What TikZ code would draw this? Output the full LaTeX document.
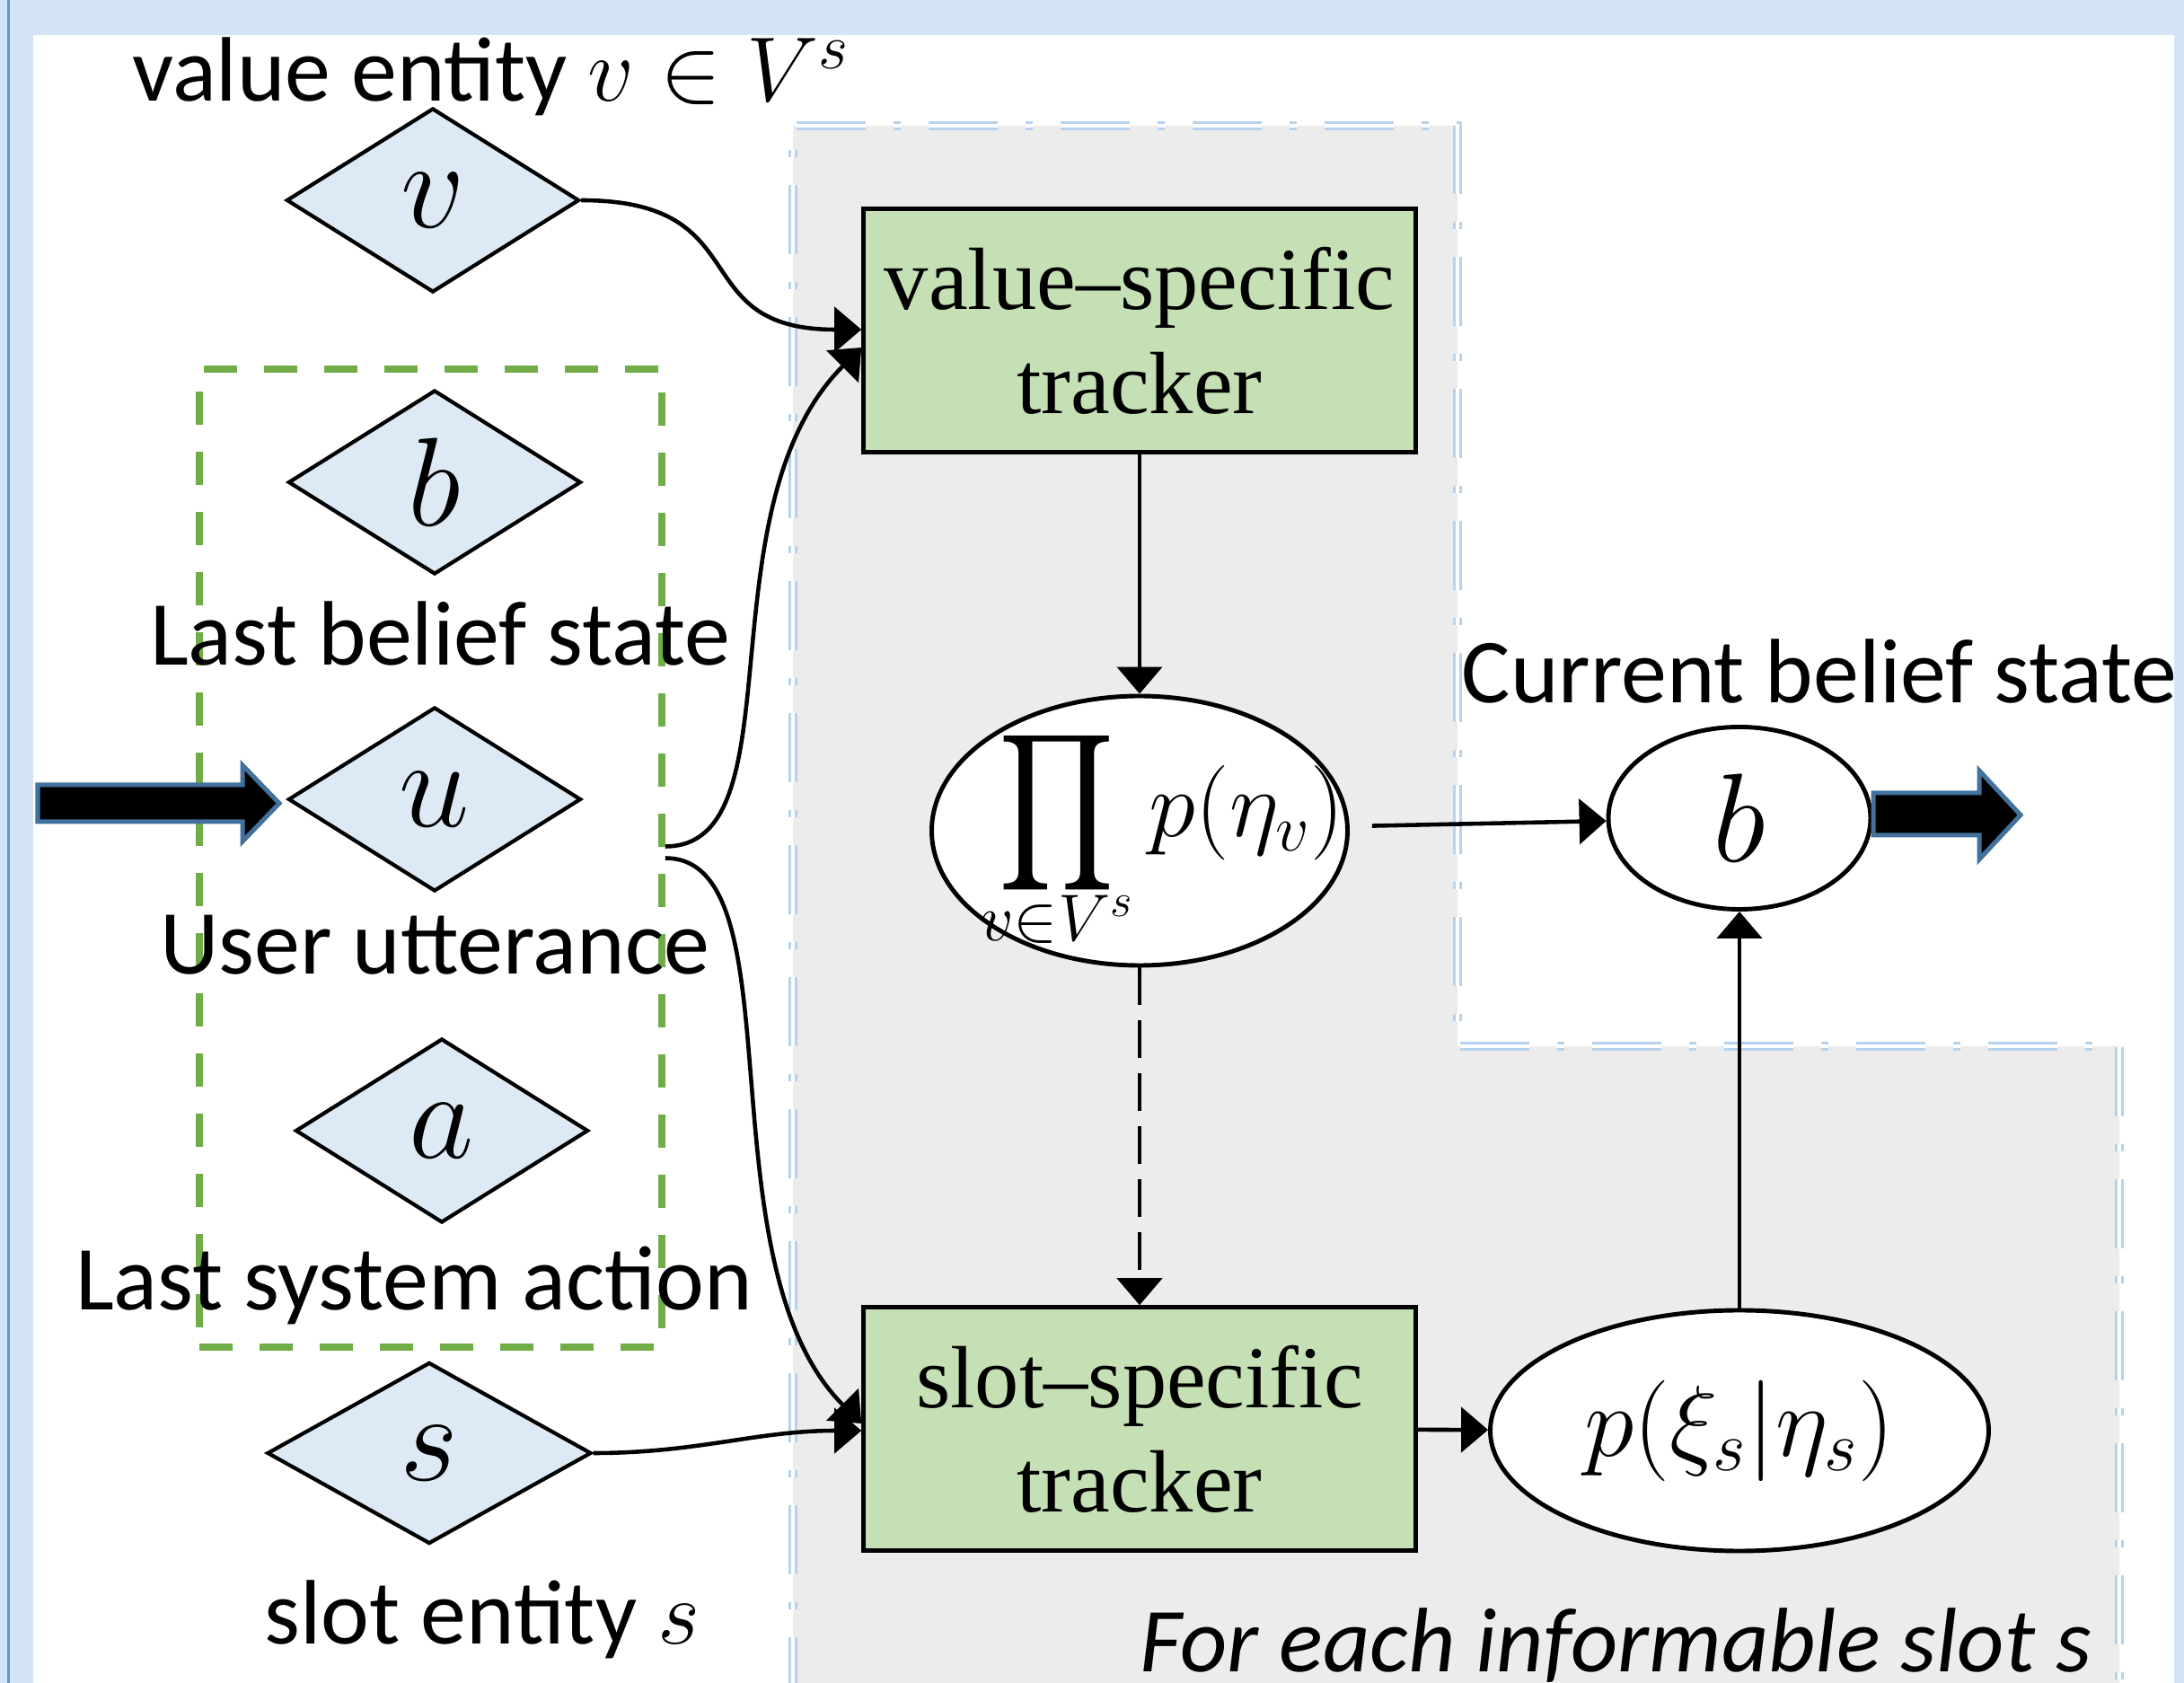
\RequirePackage{fix-cm}
\documentclass[tikz,border=0pt]{standalone}
\usepackage{amsmath}
\usepackage{graphicx}
\usepackage[no-math]{fontspec}
\setmainfont{Carlito}
\newfontfamily\boxfont{Liberation Serif}
\usepackage{tikz}
\usetikzlibrary{shapes,arrows.meta,positioning}
\definecolor{framelight}{RGB}{211,228,249}
\definecolor{framedark}{RGB}{91,155,213}
\definecolor{diafill}{RGB}{221,234,246}
\definecolor{boxgreen}{RGB}{197,224,180}
\definecolor{groupgreen}{RGB}{112,173,71}
\definecolor{regiongray}{RGB}{236,236,236}
\definecolor{regionblue}{RGB}{182,210,238}
\definecolor{arrowblue}{RGB}{65,113,156}
\newcommand{\tallprod}{\mathop{\vcenter{\hbox{\scalebox{1.15}[1.4]{$\displaystyle\prod$}}}}\limits}
\tikzstyle{dnode} = [diamond, draw, fill=diafill, line width=1.2pt, inner sep=0pt, minimum width=3.26cm, minimum height=2.05cm, font=\fontsize{40}{48}\selectfont]
\tikzstyle{tbox} = [rectangle, draw, fill=boxgreen, line width=1.3pt, minimum width=6.15cm, minimum height=2.71cm, align=center, font=\boxfont\fontsize{28}{33}\selectfont]
\tikzstyle{enode} = [ellipse, draw, fill=white, line width=1.4pt, inner sep=0pt]
\tikzstyle{gbox} = [rectangle, draw=groupgreen, line width=2.2pt, dash pattern=on 0.37cm off 0.30cm]
\tikzstyle{tlabel} = [anchor=base, inner sep=0pt, font=\fontsize{29}{34}\selectfont]
\tikzstyle{line} = [draw, line width=1.3pt, -{Triangle[length=0.3cm,width=0.5cm]}]
\tikzstyle{bigarrow} = [fill=black, draw=arrowblue, line width=0.05cm]

\begin{document}
\begin{tikzpicture}
	\useasboundingbox (0,0) rectangle (24.32,-18.74);
	% frame
	\fill [framelight] (0,0) rectangle (24.32,-18.74);
	\fill [white] (0.37,-0.39) rectangle (24.21,-19);
	\draw [framedark, line width=0.04cm] (0.095,0) -- (0.095,-18.74);
	% informable slot region
	\path [fill=regiongray] (8.83,-1.40) -- (16.23,-1.40) -- (16.23,-11.65) -- (23.60,-11.65) -- (23.60,-19) -- (8.83,-19) -- cycle;
	\draw [regionblue, line width=0.9pt, double=white, double distance=1.2pt, dash pattern=on 0.77cm off 0.31cm on 0.08cm off 0.31cm] (8.83,-19) -- (8.83,-1.40) -- (16.23,-1.40) -- (16.23,-11.65) -- (23.60,-11.65) -- (23.60,-19);

	\node [gbox, minimum width=5.15cm, minimum height=10.89cm] (ctx) at (4.795,-9.555) {};

	\node [dnode] (v) at (4.82,-2.23) {$v$};
	\node [dnode] (b) at (4.84,-5.37) {$b$};
	\node [dnode] (u) at (4.84,-8.90) {$u$};
	\node [dnode] (a) at (4.92,-12.59) {$a$};
	\node [dnode, minimum width=3.61cm, minimum height=2.02cm] (s) at (4.78,-16.18) {$s$};

	\node [tlabel] (vlabel) at (5.47,-1.13) {value entity $v\in V^s$};
	\node [tlabel] (blabel) at (4.90,-7.41) {Last belief state};
	\node [tlabel] (ulabel) at (4.84,-10.85) {User utterance};
	\node [tlabel] (alabel) at (4.61,-14.58) {Last system action};
	\node [tlabel] (slabel) at (5.37,-18.30) {slot entity $s$};
	\node [tlabel] (curlabel) at (20.26,-7.83) {Current belief state};
	\node [tlabel, anchor=base east, font=\itshape\fontsize{29}{34}\selectfont] (each) at (23.30,-18.62) {For each informable slot s};

	\node [tbox] (vt) at (12.69,-3.68) {value–specific\\tracker};
	\node [tbox] (st) at (12.69,-15.91) {slot–specific\\tracker};

	\node [enode, minimum width=4.63cm, minimum height=3.0cm, inner xsep=-0.75cm, text height=0.6cm, text depth=0.46cm, font=\fontsize{30}{36}\selectfont] (prod) at (12.69,-9.25) {\hspace*{0.5cm}$\displaystyle\tallprod_{\smash{\raisebox{2.5pt}{$\scriptstyle v\in V^s$}}} p(\eta_v)$};
	\node [enode, minimum width=2.92cm, minimum height=2.03cm, font=\fontsize{40}{48}\selectfont] (bel) at (19.37,-9.11) {$b$};
	\node [enode, minimum width=5.55cm, minimum height=2.68cm, font=\fontsize{32}{38}\selectfont] (pxi) at (19.37,-15.93) {$p(\xi_s|\eta_s)$};

	% block arrows
	\draw [bigarrow] (0.42,-8.74) -- (2.70,-8.74) -- (2.70,-8.52) -- (3.11,-8.945) -- (2.70,-9.37) -- (2.70,-9.15) -- (0.42,-9.15) -- cycle;
	\draw [bigarrow] (20.86,-8.83) -- (22.04,-8.83) -- (22.04,-8.58) -- (22.50,-9.075) -- (22.04,-9.57) -- (22.04,-9.30) -- (20.86,-9.30) -- cycle;

	\path [line] (v.east) .. controls +(2.0,0) and +(-2.0,0) .. ([yshift=0.01cm]vt.west);
	\path [line] ([yshift=0.13cm]ctx.east) .. controls +(1.5,0) and +(-1.8,-1.8) .. ([yshift=-0.19cm]vt.west);
	\path [line] (ctx.east) .. controls +(1.5,0) and +(-1.8,1.8) .. ([yshift=0.06cm]st.west);
	\path [line] (s.east) to [out=0, in=180] ([yshift=-0.02cm]st.west);
	\path [line] (vt) -- (prod);
	\path [line, shorten <=0.25cm] (prod) -- (bel);
	\path [line, dash pattern=on 0.42cm off 0.17cm] (prod) -- (st);
	\path [line] (st) -- (pxi);
	\path [line] (pxi) -- (bel);
\end{tikzpicture}
\end{document}
